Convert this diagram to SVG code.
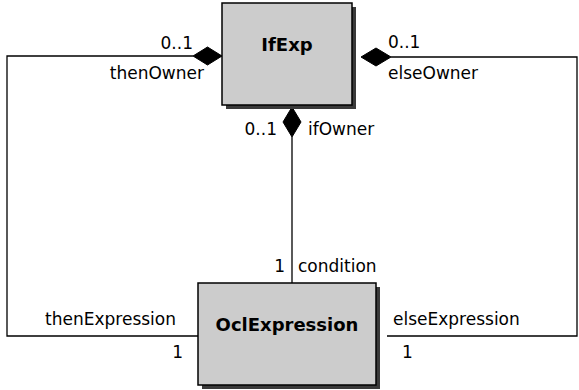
<svg xmlns="http://www.w3.org/2000/svg" width="579" height="390" viewBox="0 0 579 390">
<style>
text{font-family:"DejaVu Sans","Liberation Sans",sans-serif;font-size:17px;fill:#000}
.b{font-weight:bold;font-size:18px}
.box{fill:#cccccc;stroke:#000;stroke-width:1.5}
.sh{fill:#3a3a3a}
.ln{fill:none;stroke:#000;stroke-width:1.3}
.dm{fill:#000;stroke:#000;stroke-width:1}
</style>
<rect width="579" height="390" fill="#fff"/>
<g id="connectors">
<polyline class="ln" points="193,56 7,56 7,336 198,336"/>
<polyline class="ln" points="391,57 577,57 577,336 387,336"/>
<polyline class="ln" points="292,137 292,283"/>
<polygon class="dm" points="222,56 207.5,47 193,56 207.5,65"/>
<polygon class="dm" points="361,57 376,48 391,57 376,66"/>
<polygon class="dm" points="292,107 301,122 292,137 283,122"/>
<text x="193" y="49" text-anchor="end">0..1</text>
<text x="204" y="79" text-anchor="end">thenOwner</text>
<text x="388" y="48">0..1</text>
<text x="388" y="79">elseOwner</text>
<text x="277" y="135" text-anchor="end">0..1</text>
<text x="308" y="135">ifOwner</text>
<text x="285" y="272" text-anchor="end">1</text>
<text x="298" y="272">condition</text>
<text x="176" y="325" text-anchor="end">thenExpression</text>
<text x="183" y="358" text-anchor="end">1</text>
<text x="393" y="325">elseExpression</text>
<text x="402" y="358">1</text>
</g>
<g id="IfExp">
<rect class="sh" x="226" y="7" width="130" height="102"/>
<rect class="box" x="222" y="3" width="130" height="102"/>
<text class="b" x="287" y="51" text-anchor="middle">IfExp</text>
</g>
<g id="OclExpression">
<rect class="sh" x="202" y="287" width="178" height="102"/>
<rect class="box" x="198" y="283" width="178" height="102"/>
<text class="b" x="287" y="331" text-anchor="middle">OclExpression</text>
</g>
</svg>
